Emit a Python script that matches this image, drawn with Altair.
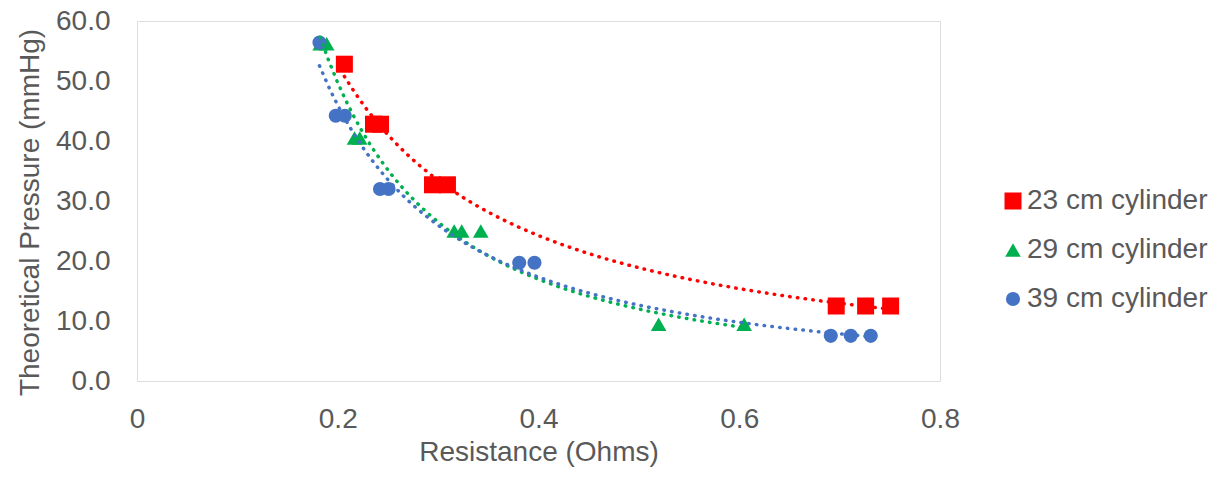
import altair as alt
import pandas as pd

# 23 cm cylinder
r23_res = [0.2066, 0.2356, 0.2426, 0.2944, 0.3093, 0.6966, 0.7259, 0.7508]
r23_p = [52.8, 42.8, 42.8, 32.7, 32.7, 12.5, 12.5, 12.5]
# 29 cm cylinder
r29_res = [0.1825, 0.1890, 0.2167, 0.2219, 0.3160, 0.3235, 0.3425, 0.5197, 0.6049]
r29_p = [56.2, 56.2, 40.5, 40.5, 25.0, 25.0, 25.0, 9.45, 9.45]
# 39 cm cylinder
r39_res = [0.1818, 0.1980, 0.2070, 0.2421, 0.2506, 0.3808, 0.3960, 0.6912, 0.7111, 0.7310]
r39_p = [56.4, 44.2, 44.2, 32.0, 32.0, 19.7, 19.7, 7.53, 7.53, 7.53]

series_names = ["23 cm cylinder", "29 cm cylinder", "39 cm cylinder"]
colors = ["#FF0000", "#00B050", "#4472C4"]
shapes = ["square", "triangle-up", "circle"]
sizes = [289, 200, 225]

x_ticks = [0, 0.2, 0.4, 0.6, 0.8]
y_ticks = [0, 10, 20, 30, 40, 50, 60]

rows = []
for name, xs, ys in zip(series_names, [r23_res, r29_res, r39_res], [r23_p, r29_p, r39_p]):
    for a, b in zip(xs, ys):
        rows.append({"series": name, "R": a, "P": b})
df = pd.DataFrame(rows)

FONT = "Liberation Sans"
TXT = "#595959"

x_enc = alt.X("R:Q", scale=alt.Scale(domain=[0, 0.8], nice=False),
              axis=alt.Axis(values=x_ticks, format="~g", title="Resistance (Ohms)",
                            labelFontSize=28, titleFontSize=28, labelFont=FONT, titleFont=FONT,
                            labelColor=TXT, titleColor=TXT, titleFontWeight="normal",
                            domain=False, ticks=False, tickSize=0, grid=False, labelFlush=False,
                            labelBaseline="alphabetic", labelPadding=46,
                            titleBaseline="alphabetic", titleY=79))
y_enc = alt.Y("P:Q", scale=alt.Scale(domain=[0, 60], nice=False),
              axis=alt.Axis(values=y_ticks, format=".1f", title="Theoretical Pressure (mmHg)",
                            labelFontSize=28, titleFontSize=28, labelFont=FONT, titleFont=FONT,
                            labelColor=TXT, titleColor=TXT, titleFontWeight="normal",
                            domain=False, ticks=False, tickSize=0, grid=False, labelFlush=False,
                            labelPadding=27, titleX=-99, titleY=191,
                            titleBaseline="alphabetic", titleAlign="center", titleAngle=270))

legend = alt.Legend(title=None, orient="none", legendX=862, legendY=166,
                    labelFontSize=28, labelFont=FONT, labelColor=TXT,
                    symbolSize=180, symbolStrokeWidth=0, labelOffset=0,
                    rowPadding=21, padding=0, labelLimit=400)

points = alt.Chart(df).mark_point(filled=True, opacity=1, strokeWidth=0).encode(
    x=x_enc,
    y=y_enc,
    color=alt.Color("series:N", scale=alt.Scale(domain=series_names, range=colors), legend=legend),
    shape=alt.Shape("series:N", scale=alt.Scale(domain=series_names, range=shapes), legend=legend),
    size=alt.Size("series:N", scale=alt.Scale(domain=series_names, range=sizes), legend=None),
)

lines = alt.Chart(df).transform_regression(
    "R", "P", groupby=["series"], method="pow"
).mark_line(strokeDash=[0.5, 7.3], strokeCap="round", strokeWidth=3.5).encode(
    x=alt.X("R:Q"),
    y=alt.Y("P:Q"),
    stroke=alt.Stroke("series:N", scale=alt.Scale(domain=series_names, range=colors), legend=None),
)

chart = alt.layer(points, lines).properties(
    width=803, height=360,
    autosize=alt.AutoSizeParams(type="none"),
    padding={"left": 137, "top": 21, "right": 280, "bottom": 97},
).configure_view(stroke="#C8C8C8", strokeWidth=2).configure(background="white")

chart.save("out.html", embed_options={"renderer": "svg", "actions": False})
